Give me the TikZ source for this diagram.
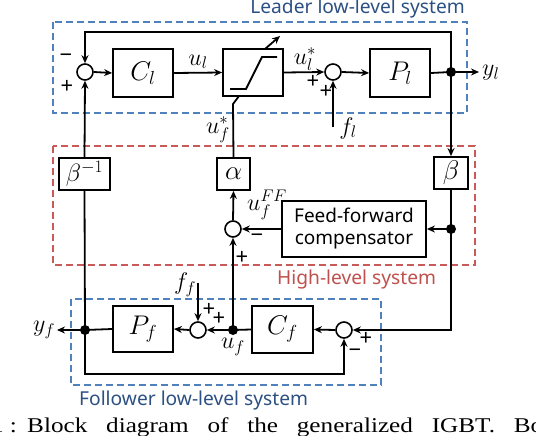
\RequirePackage{fix-cm}
\documentclass[tikz,border=0pt]{standalone}
\usepackage{fontspec}
\setmainfont{Noto Sans}
\newfontfamily\capfont{Liberation Serif}
\usetikzlibrary{arrows.meta}
\definecolor{dblue}{RGB}{79,129,189}
\definecolor{dred}{RGB}{200,90,88}
\definecolor{tblue}{RGB}{44,80,130}
\definecolor{tred}{RGB}{192,80,77}
\begin{document}
\begin{tikzpicture}[x=1pt,y=-1pt,
  wire/.style={line width=1.8pt},
  arr/.style={-{Stealth[length=8pt,width=7pt]}},
  blk/.style={draw,line width=1.8pt,inner sep=0pt,font=\fontsize{27}{27}\selectfont},
  sumc/.style={draw,circle,line width=1.6pt,minimum size=16pt,inner sep=0pt},
  jdot/.style={fill,circle,minimum size=10pt,inner sep=0pt},
  lbl/.style={inner sep=0pt,font=\fontsize{24}{24}\selectfont},
  sgn/.style={inner sep=0pt,font=\fontsize{22}{22}\selectfont},
  grp/.style={line width=1.4pt,dash pattern=on 7pt off 4pt},
  grptext/.style={inner sep=0pt,font=\fontsize{19.2}{19.2}\selectfont}]
\useasboundingbox (0,0) rectangle (536,436);

% group boxes
\draw[grp,dblue] (53,22) rectangle (467,113);
\draw[grp,dred] (53,146) rectangle (475,265);
\draw[grp,dblue] (71,299) rectangle (381,385);
\node[grptext,text=tblue,anchor=east] (tL) at (465,9) {Leader low-level system};
\node[grptext,text=tred,anchor=west] (tH) at (277,280) {High-level system};
\node[grptext,text=tblue,anchor=west] (tF) at (79,401) {Follower low-level system};

% leader
\node[sumc] (sL1) at (85,72) {};
\node[blk,minimum width=60pt,minimum height=48pt] (Cl) at (143,73) {$C_l$};
\node[blk,minimum width=60pt,minimum height=47pt] (sat) at (253,72.5) {};
\node[sumc] (sL2) at (333,72) {};
\node[blk,minimum width=60pt,minimum height=48pt] (Pl) at (400,73) {$P_l$};
\node[jdot] (jL) at (451,72) {};
\coordinate (yl) at (479,72);
\node[lbl,anchor=west] (ylt) at (482,73) {$y_l$};
\coordinate (tr) at (451,32);
\coordinate (tl) at (85,32);
\coordinate (fl) at (333,127);
\node[lbl] (flt) at (348,128) {$f_l$};

% saturation symbol
\coordinate (s1) at (230,89);
\coordinate (s2) at (246,89);
\coordinate (s3) at (262,57);
\coordinate (s4) at (277,57);
\draw[wire] (s1) -- (s2) -- (s3) -- (s4);
\coordinate (sa) at (265,49);
\coordinate (sb) at (280,36);
\draw[wire,arr] (sa) -- (sb);

% high level
\node[blk,minimum width=51pt,minimum height=32pt,font=\fontsize{25}{25}\selectfont] (binv) at (84.5,174) {$\beta^{-1}$};
\node[blk,minimum width=33pt,minimum height=32pt] (alpha) at (233.5,174) {$\alpha$};
\node[blk,minimum width=34pt,minimum height=32pt] (beta) at (451,173) {$\beta$};
\node[sumc] (sH) at (233,229) {};
\node[blk,minimum width=144pt,minimum height=56pt,align=center,font=\fontsize{19}{22}\selectfont] (ff) at (354,229) {Feed-forward\\compensator};
\node[jdot] (jH) at (451,229) {};
\coordinate (uk) at (233,104);
\coordinate (ub) at (239,96);

% follower
\node[jdot] (jY) at (85,330) {};
\coordinate (yf) at (57,330);
\node[lbl] (yft) at (44,330) {$y_f$};
\node[blk,minimum width=60pt,minimum height=46pt] (Pf) at (143,329) {$P_f$};
\node[sumc] (sF1) at (198,330) {};
\node[jdot] (jU) at (233,330) {};
\node[blk,minimum width=61pt,minimum height=47pt] (Cf) at (282.5,329.5) {$C_f$};
\node[sumc] (sF2) at (344,330) {};
\coordinate (ffin) at (198,283);
\node[lbl] (fft) at (185,285) {$f_f$};
\coordinate (br) at (451,330);
\coordinate (bl1) at (85,374);
\coordinate (bl2) at (344,374);

% wires leader
\draw[wire,arr] (jL.center) -- (tr) -- (tl) -- (sL1.north);
\draw[wire,arr] (sL1.east) -- (Cl.west);
\draw[wire,arr] (Cl.east) -- (sat.west);
\draw[wire,arr] (sat.east) -- (sL2.west);
\draw[wire,arr] (sL2.east) -- (Pl.west);
\draw[wire] (Pl.east) -- (jL.center);
\draw[wire,arr] (jL.center) -- (yl);
\draw[wire,arr] (fl) -- (sL2.south);
\node[lbl] (ult) at (198,62) {$u_l$};
\node[lbl] (ulst) at (305,59) {$u_l^{*}$};

% wires high
\draw[wire,arr] (jL.center) -- (beta.north);
\draw[wire] (beta.south) -- (jH.center);
\draw[wire,arr] (jH.center) -- (ff.east);
\draw[wire,arr] (ff.west) -- (sH.east);
\draw[wire,arr] (sH.north) -- (alpha.south);
\draw[wire] (alpha.north) -- (uk) -- (ub);
\node[lbl] (ufst) at (218,130) {$u_f^{*}$};
\node[lbl] (ufft) at (267,205) {$u_f^{FF}$};
\draw[wire,arr] (binv.north) -- (sL1.south);

% wires follower
\draw[wire,arr] (jH.center) -- (br) -- (sF2.east);
\draw[wire,arr] (sF2.west) -- (Cf.east);
\draw[wire] (Cf.west) -- (jU.center);
\draw[wire,arr] (jU.center) -- (sF1.east);
\draw[wire,arr] (sF1.west) -- (Pf.east);
\draw[wire] (Pf.west) -- (jY.center);
\draw[wire,arr] (jY.center) -- (yf);
\draw[wire] (jY.center) -- (binv.south);
\draw[wire,arr] (jY.center) -- (bl1) -- (bl2) -- (sF2.south);
\draw[wire,arr] (jU.center) -- (sH.south);
\draw[wire,arr] (ffin) -- (sF1.north);
\node[lbl] (uft) at (233,347) {$u_f$};

% signs
\node[sgn] (g1) at (66,58) {−};
\node[sgn] (g2) at (67,87) {+};
\node[sgn] (g3) at (313,82) {+};
\node[sgn] (g4) at (326,92) {+};
\node[sgn] (g5) at (257,238) {−};
\node[sgn] (g6) at (242,258) {+};
\node[sgn] (g7) at (209,310) {+};
\node[sgn] (g8) at (219,319) {+};
\node[sgn] (g9) at (366,339) {+};
\node[sgn] (g10) at (355,353) {−};

% caption (cropped)
\begin{scope}
\clip (0,0) rectangle (536,436);
\node[inner sep=0pt,anchor=base east,font=\capfont\fontsize{21}{22}\selectfont] (cap0) at (4,432) {\scalebox{1.2}[1]{1}};
\node[inner sep=0pt,anchor=base east,font=\capfont\fontsize{21}{22}\selectfont] (capc) at (17,432) {\scalebox{1.2}[1]{:}};
\node[inner sep=0pt,anchor=base west,font=\capfont\fontsize{21}{22}\selectfont] (cap1) at (27,432) {\scalebox{1.2}[1]{\makebox[430pt][s]{Block diagram of the generalized IGBT. Bo}}};
\end{scope}
\end{tikzpicture}
\end{document}
